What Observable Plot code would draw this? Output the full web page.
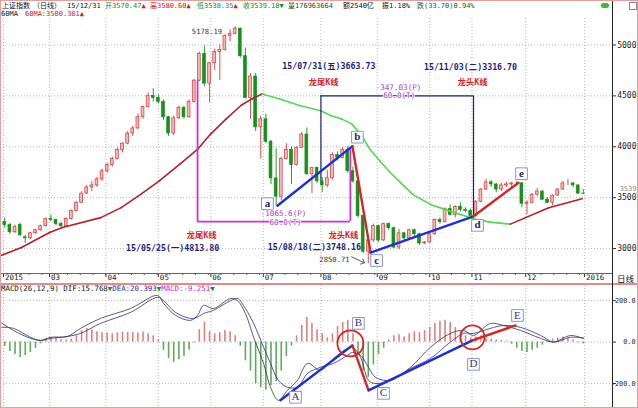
<!DOCTYPE html>
<html><head><meta charset="utf-8">
<script src="https://cdn.jsdelivr.net/npm/d3@7"></script>
<script src="https://cdn.jsdelivr.net/npm/@observablehq/plot@0.6"></script>
<style>
body{margin:0;background:#fff;}
#wrap{position:relative;width:638px;height:408px;overflow:hidden;background:#fff;font-family:"DejaVu Sans Mono","Noto Sans CJK SC",monospace;}
.t{position:absolute;white-space:pre;line-height:1;}
.g{color:#138a13}.r{color:#d02020}.k{color:#111}
.ln{position:absolute;}
</style></head><body>
<div id="wrap">
  <div class="t k" style="left:2px;top:2.5px;font-size:7px">上证指数</div>
  <div class="t k" style="left:33px;top:2.5px;font-size:7px">（日线）</div>
  <div class="t k" style="left:67px;top:2.5px;font-size:7px">15/12/31</div>
  <div class="t" style="left:105px;top:2.5px;font-size:7px"><span class="g">开3570.47</span><span class="r">▲</span></div>
  <div class="t" style="left:150px;top:2.5px;font-size:7px"><span class="r">高3580.60▲</span></div>
  <div class="t" style="left:197px;top:2.5px;font-size:7px"><span class="g">低3538.35</span><span class="r">▲</span></div>
  <div class="t" style="left:243px;top:2.5px;font-size:7px"><span class="g">收3539.18▼</span></div>
  <div class="t" style="left:288px;top:2.5px;font-size:7px;color:#2a4a2a">量176963664</div>
  <div class="t k" style="left:343px;top:2.5px;font-size:7px">额2540亿</div>
  <div class="t k" style="left:382px;top:2.5px;font-size:7px">振1.18%</div>
  <div class="t" style="left:417px;top:2.5px;font-size:7px;color:#1f5a1f">跌(33.70)0.94%</div>
  <div class="t k" style="left:1px;top:10.5px;font-size:7px">60MA</div>
  <div class="t r" style="left:25px;top:10.5px;font-size:7px">60MA:3500.381▲</div>
  <div class="ln" style="left:601px;top:3px;width:8px;height:5px;border-radius:4px;background:#3cb83c"></div>
  <div class="ln" style="left:629px;top:2px;width:6px;height:6px;border:1px solid #888"></div>
  <div id="main" style="position:absolute;left:0;top:16px"></div>
  <div id="macd" style="position:absolute;left:0;top:284px"></div>
  <div class="ln" style="left:0;top:273px;width:612px;height:1px;background:#666"></div>
  <div class="ln" style="left:0;top:283px;width:638px;height:1.5px;background:#e08c8c"></div>
  <div class="ln" style="left:612px;top:0;width:1px;height:408px;background:#222"></div>
  <div class="t k" style="left:617px;top:274.5px;font-size:8.5px">日线</div>
  <div class="t" style="left:1px;top:284.5px;font-size:7.4px"><span class="k">MACD(26,12,9) DIF:15.768</span><span class="g">▼</span><span style="color:#2a2ab0">DEA:20.393</span><span class="g">▼</span><span style="color:#d020d0">MACD:-9.251</span><span class="g">▼</span></div>
  <div class="ln" style="left:0;top:0;width:636px;height:406px;border:1px solid #e4a0a0;pointer-events:none"></div>
</div>
<script>
// ---- data (2-trading-day buckets, Feb..Dec 2015) ----
const opens = [3260,3230,3160,3230,3110,3100,3150,3180,3220,3290, 3280,3240,3220,3290,3370,3450,3540,3600,3620,3680, 3760,3820,3880,3970,4030,4130,4180,4290,4390,4500, 4480,4440,4290,4130,4280,4380,4290,4440,4650,4910, 4620,4820,4930,4950,5090,5110,5160,4890,4480,4690, 4190,4270,4050,3690,3510,3880,3970,3820,3990,4120, 3730,3790,3660,3620,3690,3920,3890,3970,3760,3660, 3320,2970,3080,3220,3080,3240,3200,3010,3150,3100, 3180,3140,3050,3060,3140,3280,3260,3390,3330,3410, 3380,3370,3320,3460,3580,3650,3630,3580,3620,3630, 3640,3640,3440,3450,3530,3560,3480,3450,3520,3580, 3640,3640,3620,3540];
const highs = [3300,3250,3230,3250,3130,3160,3190,3230,3300,3330, 3290,3260,3300,3380,3460,3560,3620,3660,3700,3780, 3840,3900,3990,4040,4150,4200,4320,4400,4530,4570, 4510,4460,4300,4300,4400,4400,4460,4660,4930,4990, 4830,4960,5000,5100,5150,5178.19,5165,4970,4720,4720, 4300,4320,4060,3980,3900,4030,4000,4000,4140,4185, 3790,3800,3700,3770,3940,3950,3990,4006,3800,3670, 3330,3100,3240,3230,3250,3250,3210,3190,3160,3190, 3190,3150,3070,3150,3290,3300,3400,3430,3420,3450, 3400,3390,3470,3590,3680,3670,3640,3640,3650,3650, 3660,3650,3470,3540,3590,3570,3500,3530,3590,3660, 3680,3650,3630,3580];
const lows = [3200,3140,3150,3120,3050,3090,3140,3170,3210,3260, 3220,3200,3215,3280,3360,3440,3530,3560,3600,3660, 3740,3800,3870,3940,4020,4100,4170,4270,4380,4440, 4420,4260,4100,4110,4270,4270,4280,4430,4640,4590, 4430,4750,4650,4940,5030,5100,4870,4470,4270,4150, 3880,4030,3630,3420,3470,3870,3630,3810,3980,3720, 3540,3640,3550,3600,3670,3860,3880,3740,3640,3300, 2950,2850.71,3060,3060,3070,3180,3000,2990,3070,3100, 3100,3030,3040,3050,3130,3240,3250,3320,3300,3360, 3350,3310,3310,3450,3570,3600,3550,3560,3600,3590, 3620,3400,3330,3440,3510,3470,3440,3420,3510,3570, 3620,3600,3530,3530];
const closes = [3230,3160,3210,3130,3100,3150,3180,3220,3290,3280, 3240,3220,3290,3370,3450,3540,3600,3620,3680,3760, 3820,3880,3970,4030,4130,4180,4290,4390,4500,4480, 4440,4290,4130,4280,4380,4290,4440,4650,4910,4620, 4820,4930,4950,5090,5110,5160,4890,4480,4690,4190, 4270,4050,3690,3510,3880,3970,3820,3990,4120,3730, 3790,3660,3620,3690,3920,3890,3970,3760,3660,3320, 2970,3080,3220,3080,3240,3200,3010,3150,3100,3180, 3140,3050,3060,3140,3280,3260,3390,3330,3410,3380, 3370,3320,3460,3580,3650,3630,3580,3620,3630,3640, 3640,3440,3450,3530,3560,3480,3450,3520,3580,3640, 3640,3620,3540,3539.18];
const macdHist = [-20,-45,-60,-74,-65,-50,-30,-8,15,22, 20,12,10,15,30,55,66,60,50,45, 44,40,45,48,46,47,44,48,40,30, 12,-40,-80,-98,-85,-70,-40,-5,60,95, 50,40,45,56,50,30,-20,-90,-140,-200, -220,-233,-210,-190,-140,-70,-20,30,80,119, 90,60,40,20,40,75,95,105,40,-60, -140,-170,-110,-60,-30,10,30,35,25,40, 50,45,55,70,90,100,105,95,70,50, 30,20,25,30,20,15,10,8,5,-10, -30,-45,-50,-40,-30,-15,5,15,20,25, 20,10,-3,-9];
const maDays = [-1,7,18,23,38,46,54,61,69,76,81,87,93,97,101,108,116,124,128,132,136,140,143,147,151,155,160,167,173,184,190,198,213,226];
const maVals = [2931,3010,3157,3206,3304,3402,3539,3667,3833,3980,4127,4274,4410,4470,4519,4470,4402,4353,4304,4274,4225,4108,3980,3860,3750,3650,3530,3430,3380,3290,3260,3240,3400,3490];
const macdDays = [-1.2,3.9,10.6,14.5,18.4,25.0,30.1,37.9,49.6,60.2,62.5,67.2,73.1,75.8,78.1,82.0,88.7,91.4,94.5,97.7,101.6,104.3,107.4,110.9,114.8,118.8,123.8,128.9,134.4,136.3,139.5,142.6,145.3,151.2,159.0,166.8,174.6,179.7,183.6,190.2,195.3,202.0,209.8,214.9,221.5,226.6];
const difVals = [96,56,18,8,23,27,66,114,162,225,187,129,105,129,177,162,210,200,138,23,-103,-218,-281,-233,-185,-103,-136,-79,-30,-25,-74,-185,-200,-185,-122,-25,42,56,32,90,80,56,18,0,32,16];
const deaVals = [72,66,23,8,18,27,42,90,143,216,200,143,114,120,138,153,200,210,162,90,-25,-103,-185,-218,-218,-151,-122,-103,-64,-50,-64,-122,-170,-185,-127,-79,0,42,42,66,80,71,32,0,23,20];
const priceTicks = [3000,3500,4000,4500,5000];
const macdTicks = [200,0,-200];
const monthDays = [0,18,40,60.5,81,101.5,124,146,166.5,183,204,227];
const monthLabels = ["2015","03","04","05","06","07","08","09","10","11","12","2016"];
const waveDays = [107,136.3,143.4,183.6,201.2];
const wavePrices = [3421,4006,2961,3316.7,3647];
const waveLetters = ["a","b","c","d","e"];
const macdPivotDays = [108.2,136.3,142.6,183.2,200];
const macdPivotVals = [-281,-16,-233,8,80];
const macdLetters = ["A","B","C","D","E"];
const navyDays = [124,183.6], navyLows = [3663.73,3316.70], navyLevel = 4500;
const magDays = [75.8,135.5], magTops = [4650,3990], magLevel = 3265;
const peakIdx = 45, lowIdx = 71;
const navyTexts = ["15/07/31(五)3663.73","15/11/03(二)3316.70"];
const magTexts = ["15/05/25(一)4813.80","15/08/18(二)3748.16"];
const tailHead = ["龙尾K线","龙头K线"];
const navyDiff = ["-347.03(P)","60.0(T)"];
const magDiff = ["-1065.6(P)","60.0(T)"];

// ---- derived tables ----
const candles = closes.map((c,i)=>({day:2*i+0.5,o:opens[i],h:highs[i],l:lows[i],c}));
const hist = macdHist.map((v,i)=>({day:2*i+0.5,v}));
const maSeg = maDays.slice(1).map((d,i)=>({x1:maDays[i],y1:maVals[i],x2:d,y2:maVals[i+1],up:maVals[i+1]>=maVals[i]}));
const macdLine = macdDays.map((d,i)=>({d,dif:difVals[i],dea:deaVals[i]}));
const waveSeg = waveDays.slice(1).map((d,i)=>({x1:waveDays[i],y1:wavePrices[i],x2:d,y2:wavePrices[i+1],i}));
const macdSeg = macdPivotDays.slice(1).map((d,i)=>({x1:macdPivotDays[i],y1:macdPivotVals[i],x2:d,y2:macdPivotVals[i+1],i}));

const MONO = "DejaVu Sans Mono, Noto Sans CJK SC, monospace";
const UP="#d83a3a", UPF="#f3b8b8", DN="#17901c", NAVY="#1d1d80", RED="#d42626", BLUE="#1f30d0", PURP="#a83ec0", MAG="#cc33cc";
const grid = {stroke:"#9a9a9a", strokeWidth:0.7, strokeDasharray:"1,2"};
const X = {domain:[-1.17,237.9], axis:null};

function t(x,y,text,o){ return Plot.text([{x,y,text}], {x:"x",y:"y",text:"text",fontFamily:MONO,...o}); }
function box(days,vals,letters,i,dx,dy,o){
  return [
    Plot.dot([i],{x:j=>days[j],y:j=>vals[j],symbol:"square",r:6.6,fill:"white",stroke:"#8a98c0",strokeWidth:1,dx,dy}),
    Plot.text([i],{x:j=>days[j],y:j=>vals[j],text:j=>letters[j],dx,dy:dy-0.5,fontFamily:"Liberation Serif, serif",fontSize:11,...o})
  ];
}
const navyMid = (navyDays[0]+navyDays[1])/2, magMid = (magDays[0]+magDays[1])/2;
const bold = {fontWeight:"bold", fontSize:8.3};
const purp = {fontSize:7.6, fill:PURP, stroke:"white", strokeWidth:1.6};

const main = Plot.plot({
  width:638, height:268, marginTop:2, marginBottom:11, marginLeft:0, marginRight:26,
  x:X, y:{domain:[2755,5260], axis:null},
  style:{background:"transparent", overflow:"visible"},
  marks:[
    Plot.ruleY(priceTicks,{y:d=>d,...grid}),
    Plot.ruleX(monthDays,{x:d=>d,...grid}),
    Plot.axisY(priceTicks,{anchor:"right",tickSize:3,tickFormat:()=>"",stroke:"#333"}),
    Plot.text(priceTicks,{y:d=>d,frameAnchor:"right",dx:24,textAnchor:"end",text:d=>String(d),fontFamily:MONO,fontSize:8,fill:"#222"}),
    Plot.text([closes[closes.length-1]],{y:d=>d,frameAnchor:"right",dx:24,dy:-4.5,textAnchor:"end",text:d=>d.toFixed(0),fontFamily:MONO,fontSize:7,fill:"#888"}),
    Plot.axisX(d3.range(0,228,5),{anchor:"bottom",tickSize:2,tickFormat:()=>"",stroke:"#555"}),
    Plot.axisX(monthDays,{anchor:"bottom",tickSize:4,tickFormat:()=>"",stroke:"#333"}),
    Plot.text(monthDays.map((d,i)=>({d,l:monthLabels[i]})),{x:"d",text:"l",frameAnchor:"bottom",dy:6.5,dx:1.5,textAnchor:"start",fontFamily:MONO,fontSize:7.5,fill:"#222"}),
    // candles
    Plot.ruleX(candles,{x:"day",y1:"l",y2:"h",stroke:d=>d.c>=d.o?UP:DN,strokeWidth:0.9}),
    Plot.rect(candles,{x1:d=>d.day-0.55,x2:d=>d.day+0.55,y1:"o",y2:"c",fill:d=>d.c>=d.o?UPF:DN,stroke:d=>d.c>=d.o?UP:DN,strokeWidth:0.7}),
    // 60MA
    Plot.link(maSeg,{x1:"x1",y1:"y1",x2:"x2",y2:"y2",stroke:d=>d.up?"#b3202c":"#52d852",strokeWidth:1.6,strokeLinecap:"round"}),
    // magenta box
    Plot.ruleX(magDays.map((d,i)=>({x:d,t:magTops[i]})),{x:"x",y1:"t",y2:()=>magLevel,stroke:MAG,strokeWidth:1.8}),
    Plot.ruleY([{y:magLevel,a:magDays[0],b:magDays[1]}],{y:"y",x1:"a",x2:"b",stroke:MAG,strokeWidth:1.8}),
    // navy box
    Plot.ruleX(navyDays.map((d,i)=>({x:d,b:navyLows[i]})),{x:"x",y1:()=>navyLevel,y2:"b",stroke:NAVY,strokeWidth:1.2}),
    Plot.ruleY([{y:navyLevel,a:navyDays[0],b:navyDays[1]}],{y:"y",x1:"a",x2:"b",stroke:NAVY,strokeWidth:1.2}),
    // waves
    Plot.link(waveSeg,{x1:"x1",y1:"y1",x2:"x2",y2:"y2",stroke:d=>d.i%2?RED:BLUE,strokeWidth:2.4,strokeLinecap:"round"}),
    ...box(waveDays,wavePrices,waveLetters,0,-10,-2,{fill:"#22227a",fontWeight:"bold"}),
    ...box(waveDays,wavePrices,waveLetters,1,5,-9,{fill:"#22227a",fontWeight:"bold"}),
    ...box(waveDays,wavePrices,waveLetters,2,6,8,{fill:"#22227a",fontWeight:"bold"}),
    ...box(waveDays,wavePrices,waveLetters,3,4,9,{fill:"#22227a",fontWeight:"bold"}),
    ...box(waveDays,wavePrices,waveLetters,4,3,-9,{fill:"#22227a",fontWeight:"bold"}),
    // texts
    t(candles[peakIdx].day,highs[peakIdx],highs[peakIdx].toFixed(2),{dx:-13,dy:4.7,textAnchor:"end",fontSize:7.2,fill:"#333"}),
    t(navyDays[0],navyLevel,navyTexts[0],{dx:8,dy:-29.5,fill:NAVY,...bold}),
    t(navyDays[0],navyLevel,tailHead[0],{dx:2.6,dy:-13.4,fill:RED,...bold}),
    t(navyDays[1],navyLevel,navyTexts[1],{dx:-3,dy:-28.5,fill:NAVY,...bold}),
    t(navyDays[1],navyLevel,tailHead[1],{dx:-1,dy:-13.4,fill:RED,...bold}),
    t(navyMid,navyLevel,navyDiff[0],{dx:1.3,dy:-8.5,...purp}),
    t(navyMid,navyLevel,navyDiff[1],{dx:2,dy:0,...purp}),
    t(magMid,magLevel,magDiff[0],{dx:9.6,dy:-8.4,...purp}),
    t(magMid,magLevel,magDiff[1],{dx:11.6,dy:0.5,...purp}),
    t(magDays[0],magLevel,tailHead[0],{dx:4,dy:14,fill:RED,...bold}),
    t(magDays[0],magLevel,magTexts[0],{dx:-25,dy:27,fill:NAVY,...bold}),
    t(magDays[1],magLevel,tailHead[1],{dx:-7,dy:14,fill:RED,...bold}),
    t(magDays[1],magLevel,magTexts[1],{dx:-36,dy:25.6,fill:NAVY,...bold}),
    t(candles[lowIdx].day,lows[lowIdx],lows[lowIdx].toFixed(2),{dx:-33.8,dy:-4.3,fontSize:7.2,fill:"#333"}),
    Plot.vector([lowIdx],{x:i=>candles[i].day,y:i=>lows[i],anchor:"end",rotate:115,length:14,stroke:"#444",strokeWidth:0.8,dx:-4,dy:-1})
  ]
});
document.getElementById("main").appendChild(main);

const macd = Plot.plot({
  width:638, height:124, marginTop:1, marginBottom:2, marginLeft:0, marginRight:26,
  x:X, y:{domain:[-311,273], axis:null},
  style:{background:"transparent", overflow:"visible"},
  marks:[
    Plot.ruleY(macdTicks,{y:d=>d,...grid}),
    Plot.ruleX(monthDays,{x:d=>d,...grid}),
    Plot.axisY(macdTicks,{anchor:"right",tickSize:3,tickFormat:()=>"",stroke:"#333"}),
    Plot.text(macdTicks,{y:d=>d,frameAnchor:"right",dx:23,textAnchor:"end",text:d=>d.toFixed(1),fontFamily:MONO,fontSize:6.8,fill:"#222"}),
    Plot.ruleX(hist,{x:"day",y1:()=>0,y2:"v",stroke:d=>d.v>=0?"#d98282":"#62a862",strokeWidth:1.6}),
    Plot.line(macdLine,{x:"d",y:"dea",stroke:"#2a2a9a",strokeWidth:0.8,curve:"catmull-rom"}),
    Plot.line(macdLine,{x:"d",y:"dif",stroke:"#333",strokeWidth:0.8,curve:"catmull-rom"}),
    Plot.link(macdSeg,{x1:"x1",y1:"y1",x2:"x2",y2:"y2",stroke:d=>d.i%2?RED:BLUE,strokeWidth:2.4,strokeLinecap:"round"}),
    Plot.dot([1],{x:i=>macdPivotDays[i],y:i=>macdPivotVals[i],r:13,stroke:RED,strokeWidth:1.8,fill:"none",dx:-2,dy:-2}),
    Plot.dot([3],{x:i=>macdPivotDays[i],y:i=>macdPivotVals[i],r:12,stroke:RED,strokeWidth:1.8,fill:"none",dx:0,dy:-3}),
    ...box(macdPivotDays,macdPivotVals,macdLetters,0,15,-3,{fill:"#3a3a6a"}),
    ...box(macdPivotDays,macdPivotVals,macdLetters,1,6,-22,{fill:"#3a3a6a"}),
    ...box(macdPivotDays,macdPivotVals,macdLetters,2,15,3,{fill:"#3a3a6a"}),
    ...box(macdPivotDays,macdPivotVals,macdLetters,3,1,24,{fill:"#3a3a6a"}),
    ...box(macdPivotDays,macdPivotVals,macdLetters,4,2,-10,{fill:"#3a3a6a"})
  ]
});
document.getElementById("macd").appendChild(macd);
</script>
</body></html>
